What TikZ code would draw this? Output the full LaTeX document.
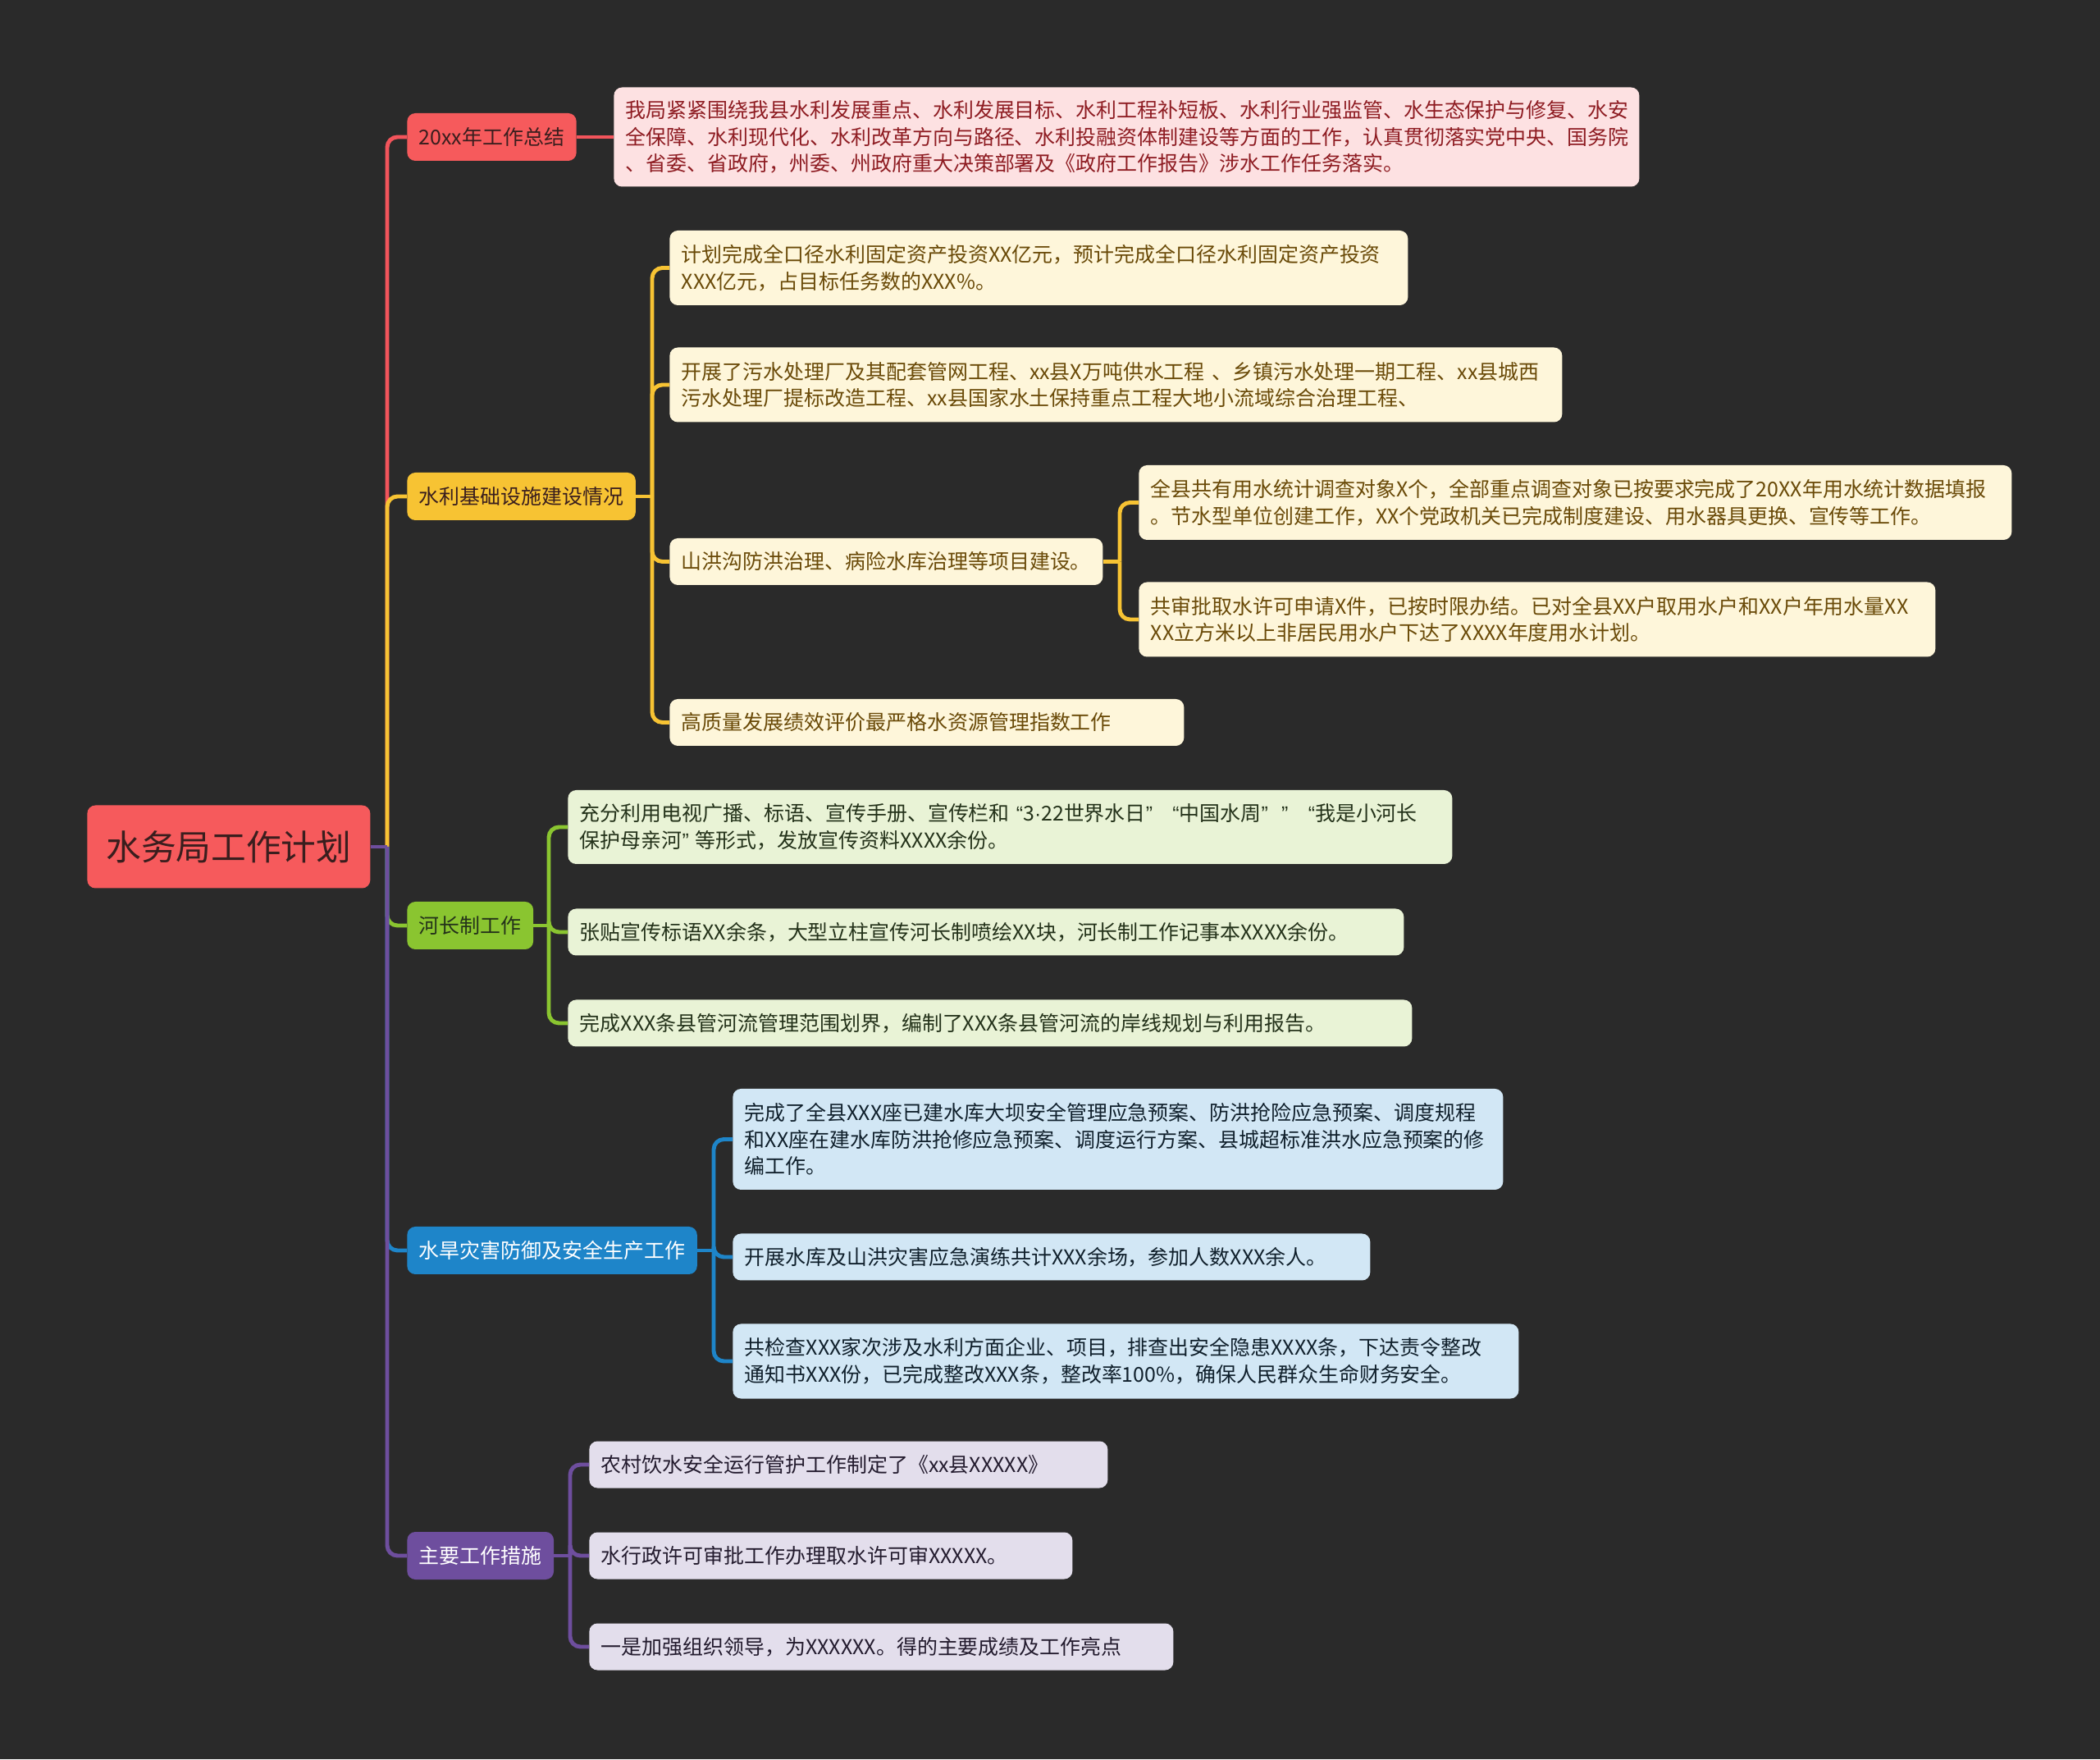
\documentclass[tikz,border=0pt]{standalone}
\usepackage{fontspec}
\setmainfont{Noto Sans CJK SC}
\newfontfamily\quotefont{Liberation Sans}
\newcommand\openq{{\quotefont\hspace{0.32em}“}}
\newcommand\closeq{{\quotefont ”\hspace{0.32em}}}
\newcommand\middot{{\quotefont ·}}

\definecolor{bgdark}{HTML}{2A2A2A}
\definecolor{redline}{HTML}{F2545B}
\definecolor{redfill}{HTML}{F65A5C}
\definecolor{redleaf}{HTML}{FDE1E2}
\definecolor{redtext}{HTML}{8E1C22}
\definecolor{yelline}{HTML}{F7C333}
\definecolor{yelleaf}{HTML}{FEF6DA}
\definecolor{yeltext}{HTML}{6A4A08}
\definecolor{grnline}{HTML}{8AC530}
\definecolor{grnleaf}{HTML}{E9F3D6}
\definecolor{grntext}{HTML}{24321A}
\definecolor{bluline}{HTML}{1E85C9}
\definecolor{bluleaf}{HTML}{D2E7F5}
\definecolor{blutext}{HTML}{10202C}
\definecolor{purline}{HTML}{6E4E9E}
\definecolor{purleaf}{HTML}{E3DEEC}
\definecolor{purtext}{HTML}{231B2E}
\definecolor{darktext}{HTML}{3A1E1E}

\begin{document}
\begin{tikzpicture}[
    box/.style={rounded corners=0.2cm, inner xsep=0.29cm, inner ysep=0pt, anchor=west,
        font=\fontsize{14.2}{18.6}\selectfont},
    leaf/.style={box, align=left, minimum height=1.14cm},
    topic/.style={box, align=center, minimum height=1.16cm},
    link/.style={line width=2.8pt, rounded corners=0.25cm},
]
    % Background
    \fill[bgdark] (0,0) rectangle (51.2,42.88);

    % Root
    \node[box, fill=redfill, text=darktext, inner xsep=0pt, align=center,
        minimum width=6.9cm, minimum height=2.02cm,
        font=\fontsize{24.3}{28}\selectfont] (root) at (2.12,22.24) {水务局工作计划};

    % Main topics
    \node[topic, fill=redfill, text=darktext, minimum width=4.12cm] (summary) at (9.92,39.54) {20xx年工作总结};
    \node[topic, fill=yelline, text=darktext, minimum width=5.56cm] (infra) at (9.92,30.78) {水利基础设施建设情况};
    \node[topic, fill=grnline, text=grntext, minimum width=3.02cm] (river) at (9.92,20.32) {河长制工作};
    \node[topic, fill=bluline, text=white, minimum width=7cm] (flood) at (9.92,12.40) {水旱灾害防御及安全生产工作};
    \node[topic, fill=purline, text=white, minimum width=3.5cm] (measure) at (9.92,4.96) {主要工作措施};

    % Summary
    \node[leaf, fill=redleaf, text=redtext, text width=24.42cm, minimum height=2.42cm] (sumtext) at (14.96,39.54)
        {我局紧紧围绕我县水利发展重点、水利发展目标、水利工程补短板、水利行业强监管、水生态保护与修复、水安\\
         全保障、水利现代化、水利改革方向与路径、水利投融资体制建设等方面的工作，认真贯彻落实党中央、国务院\\
         、省委、省政府，州委、州政府重大决策部署及《政府工作报告》涉水工作任务落实。};

    % Infrastructure
    \node[leaf, fill=yelleaf, text=yeltext, text width=17.42cm, minimum height=1.82cm] (invest) at (16.32,36.35)
        {计划完成全口径水利固定资产投资XX亿元，预计完成全口径水利固定资产投资\\
         XXX亿元，占目标任务数的XXX\%。};
    \node[leaf, fill=yelleaf, text=yeltext, text width=21.18cm, minimum height=1.82cm] (works) at (16.32,33.50)
        {开展了污水处理厂及其配套管网工程、xx县X万吨供水工程 、乡镇污水处理一期工程、xx县城西\\
         污水处理厂提标改造工程、xx县国家水土保持重点工程大地小流域综合治理工程、};
    \node[leaf, fill=yelleaf, text=yeltext, text width=9.98cm] (mount) at (16.32,29.19)
        {山洪沟防洪治理、病险水库治理等项目建设。};
    \node[leaf, fill=yelleaf, text=yeltext, text width=20.70cm, minimum height=1.82cm] (survey) at (27.76,30.63)
        {全县共有用水统计调查对象X个，全部重点调查对象已按要求完成了20XX年用水统计数据填报\\
         。节水型单位创建工作，XX个党政机关已完成制度建设、用水器具更换、宣传等工作。};
    \node[leaf, fill=yelleaf, text=yeltext, text width=18.84cm, minimum height=1.82cm] (permit) at (27.76,27.78)
        {共审批取水许可申请X件，已按时限办结。已对全县XX户取用水户和XX户年用水量XX\\
         XX立方米以上非居民用水户下达了XXXX年度用水计划。};
    \node[leaf, fill=yelleaf, text=yeltext, text width=11.96cm] (index) at (16.32,25.27)
        {高质量发展绩效评价最严格水资源管理指数工作};

    % River chief
    \node[leaf, fill=grnleaf, text=grntext, text width=20.98cm, minimum height=1.80cm] (media) at (13.84,22.72)
        {\mbox{充分利用电视广播、标语、宣传手册、宣传栏和\openq 3\middot 22世界水日\closeq\ \openq 中国水周\closeq\ \closeq\ \openq 我是小河长}\\
         保护母亲河\closeq 等形式，发放宣传资料XXXX余份。};
    \node[leaf, fill=grnleaf, text=grntext, text width=19.80cm] (poster) at (13.84,20.16)
        {张贴宣传标语XX余条，大型立柱宣传河长制喷绘XX块，河长制工作记事本XXXX余份。};
    \node[leaf, fill=grnleaf, text=grntext, text width=20.00cm] (bound) at (13.84,17.94)
        {完成XXX条县管河流管理范围划界，编制了XXX条县管河流的岸线规划与利用报告。};

    % Flood and safety
    \node[leaf, fill=bluleaf, text=blutext, text width=18.20cm, minimum height=2.46cm] (plan) at (17.86,15.11)
        {完成了全县XXX座已建水库大坝安全管理应急预案、防洪抢险应急预案、调度规程\\
         和XX座在建水库防洪抢修应急预案、调度运行方案、县城超标准洪水应急预案的修\\
         编工作。};
    \node[leaf, fill=bluleaf, text=blutext, text width=14.96cm] (drill) at (17.86,12.24)
        {开展水库及山洪灾害应急演练共计XXX余场，参加人数XXX余人。};
    \node[leaf, fill=bluleaf, text=blutext, text width=18.58cm, minimum height=1.82cm] (check) at (17.86,9.70)
        {共检查XXX家次涉及水利方面企业、项目，排查出安全隐患XXXX条，下达责令整改\\
         通知书XXX份，已完成整改XXX条，整改率100\%，确保人民群众生命财务安全。};

    % Main measures
    \node[leaf, fill=purleaf, text=purtext, text width=12.06cm] (rural) at (14.36,7.18)
        {农村饮水安全运行管护工作制定了《xx县XXXXX》};
    \node[leaf, fill=purleaf, text=purtext, text width=11.20cm] (admin) at (14.36,4.96)
        {水行政许可审批工作办理取水许可审XXXXX。};
    \node[leaf, fill=purleaf, text=purtext, text width=13.66cm] (lead) at (14.36,2.74)
        {一是加强组织领导，为XXXXXX。得的主要成绩及工作亮点};

    % Junctions
    \coordinate (hub) at (9.44,22.24);
    \coordinate (infraj) at (15.9,30.78);
    \coordinate (mountj) at (27.3,29.19);
    \coordinate (riverj) at (13.38,20.32);
    \coordinate (floodj) at (17.4,12.40);
    \coordinate (measurej) at (13.9,4.96);

    % Trunk
    \draw[link, redline] (hub) |- (summary.west);
    \draw[link, yelline] (hub) |- (infra.west);
    \draw[link, grnline] (hub) |- (river.west);
    \draw[link, bluline] (hub) |- (flood.west);
    \draw[link, purline] (hub) |- (measure.west);
    \draw[link, purline] (root.east) -- (hub);

    % Branches
    \draw[link, redline] (summary.east) -- (sumtext.west);

    \draw[link, yelline] (infra.east) -- (infraj);
    \foreach \n in {invest,works,mount,index}
        \draw[link, yelline] (infraj) |- (\n.west);
    \draw[link, yelline] (mount.east) -- (mountj);
    \foreach \n in {survey,permit}
        \draw[link, yelline] (mountj) |- (\n.west);

    \draw[link, grnline] (river.east) -- (riverj);
    \foreach \n in {media,poster,bound}
        \draw[link, grnline] (riverj) |- (\n.west);

    \draw[link, bluline] (flood.east) -- (floodj);
    \foreach \n in {plan,drill,check}
        \draw[link, bluline] (floodj) |- (\n.west);

    \draw[link, purline] (measure.east) -- (measurej);
    \foreach \n in {rural,admin,lead}
        \draw[link, purline] (measurej) |- (\n.west);
\end{tikzpicture}
\end{document}
